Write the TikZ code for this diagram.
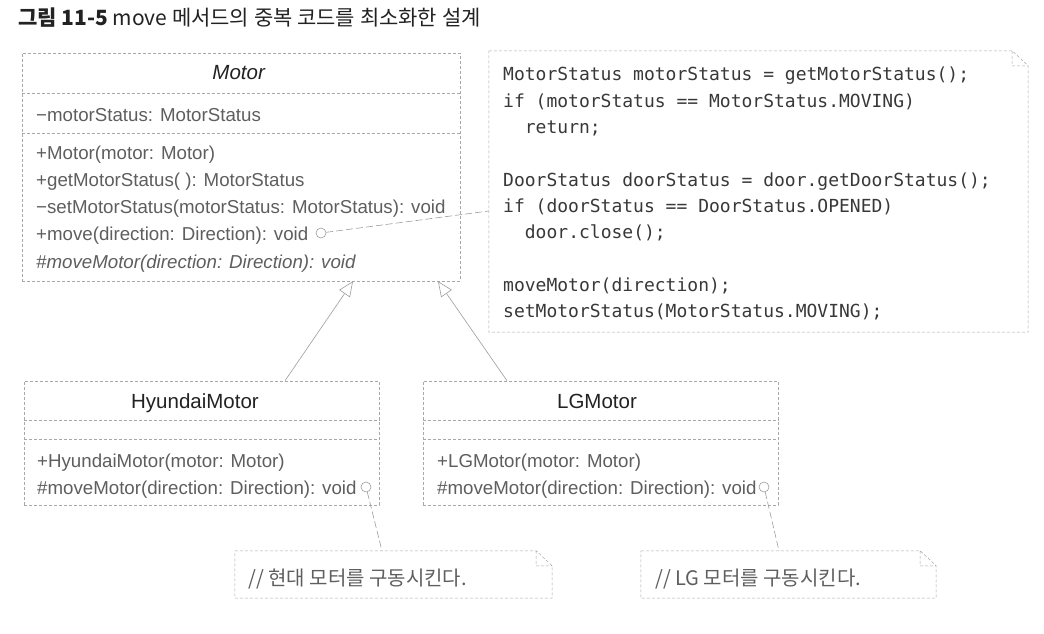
\documentclass[tikz,border=0pt]{standalone}
\usepackage{fontspec}
\setmainfont{Liberation Sans}
\newfontfamily\codefont{DejaVu Sans Mono}
\newfontfamily\krfont{Noto Sans CJK KR}
\usepackage{tikz}
\usetikzlibrary{arrows.meta}
\definecolor{boxgray}{HTML}{A8A8A8}
\definecolor{linkgray}{HTML}{9C9C9C}
\definecolor{namegray}{HTML}{222222}
\definecolor{membergray}{HTML}{5E5E5E}
\definecolor{codegray}{HTML}{383838}
\tikzset{
    classbox/.style = {
        rectangle,
        draw=boxgray,
        densely dashed,
        line width=0.5pt,
        inner sep=0pt
    },
    divider/.style = {
        draw=boxgray,
        densely dashed,
        line width=0.5pt
    },
    classname/.style = {
        anchor=base,
        inner sep=0pt,
        text=namegray,
        font=\fontsize{20.5}{24}\selectfont
    },
    member/.style = {
        anchor=base west,
        inner sep=0pt,
        text=membergray,
        font=\fontsize{18.7}{23}\selectfont
    },
    notebox/.style = {
        rectangle,
        inner sep=0pt
    },
    noteline/.style = {
        draw=boxgray,
        densely dashed,
        line width=0.5pt
    },
    codeline/.style = {
        anchor=base west,
        inner sep=0pt,
        text=codegray,
        font=\codefont\fontsize{18}{22}\selectfont
    },
    notetext/.style = {
        anchor=base west,
        inner sep=0pt,
        text=membergray,
        font=\krfont\fontsize{20}{24}\selectfont
    },
    pincirc/.style = {
        circle,
        draw=linkgray,
        line width=0.6pt,
        minimum size=10pt,
        inner sep=0pt
    },
    notelink/.style = {
        draw=linkgray,
        line width=0.6pt,
        dash pattern=on 7pt off 3pt
    },
    inherit/.style = {
        draw=linkgray,
        line width=0.6pt,
        -{Triangle[open, length=15pt, width=13pt]}
    }
}
\begin{document}
\begin{tikzpicture}[x=1pt, y=-1pt]
    \useasboundingbox (0,0) rectangle (1044,634);
    \node[anchor=base west, inner sep=0pt, text=namegray, font=\krfont\fontsize{21}{25}\selectfont] (title) at (18,26)
        {{\bfseries 그림 11-5} move 메서드의 중복 코드를 최소화한 설계};

    % Motor
    \node[classbox, minimum width=438pt, minimum height=228pt] (motor) at (241,167) {};
    \draw[divider] (motor.west |- 0,93) -- (motor.east |- 0,93);
    \draw[divider] (motor.west |- 0,133) -- (motor.east |- 0,133);
    \node[classname] (motor-name) at (239,80) {\textit{Motor}};
    \node[member] (motor-attr) at (36,121) {−motorStatus: MotorStatus};
    \foreach \txt [count=\i] in {
        {+Motor(motor: Motor)},
        {+getMotorStatus( ): MotorStatus},
        {−setMotorStatus(motorStatus: MotorStatus): void},
        {+move(direction: Direction): void},
        {\textit{\#moveMotor(direction: Direction): void}}
    }
        \node[member] (motor-m\i) at (36,131.75+27.25*\i) {\txt};
    \node[pincirc] (motor-pin) at (321,233) {};

    % HyundaiMotor
    \node[classbox, minimum width=355pt, minimum height=124pt] (hyundai) at (201.5,443) {};
    \draw[divider] (hyundai.west |- 0,420) -- (hyundai.east |- 0,420);
    \draw[divider] (hyundai.west |- 0,439) -- (hyundai.east |- 0,439);
    \node[classname] (hyundai-name) at (195,408) {HyundaiMotor};
    \node[member] (hyundai-m1) at (37,467) {+HyundaiMotor(motor: Motor)};
    \node[member] (hyundai-m2) at (37,494) {\#moveMotor(direction: Direction): void};
    \node[pincirc] (hyundai-pin) at (366,487) {};

    % LGMotor
    \node[classbox, minimum width=355pt, minimum height=124pt] (lg) at (600.5,443) {};
    \draw[divider] (lg.west |- 0,420) -- (lg.east |- 0,420);
    \draw[divider] (lg.west |- 0,439) -- (lg.east |- 0,439);
    \node[classname] (lg-name) at (597,408) {LGMotor};
    \node[member] (lg-m1) at (437,467) {+LGMotor(motor: Motor)};
    \node[member] (lg-m2) at (437,494) {\#moveMotor(direction: Direction): void};
    \node[pincirc] (lg-pin) at (764,487) {};

    % notes
    \node[notebox, minimum width=539pt, minimum height=281pt] (codenote) at (758.5,191.5) {};
    \foreach \ln/\ind/\txt in {
        0/0/{MotorStatus motorStatus = getMotorStatus();},
        1/0/{if (motorStatus == MotorStatus.MOVING)},
        2/1/{return;},
        4/0/{DoorStatus doorStatus = door.getDoorStatus();},
        5/0/{if (doorStatus == DoorStatus.OPENED)},
        6/1/{door.close();},
        8/0/{moveMotor(direction);},
        9/0/{setMotorStatus(MotorStatus.MOVING);}
    }
        \node[codeline] (code-\ln) at (503+21.7*\ind,81+26.33*\ln) {\txt};

    \node[notebox, minimum width=317pt, minimum height=47pt] (hnote) at (393.5,574.5) {};
    \node[notetext] (hnote-text) at (248,585) {// 현대 모터를 구동시킨다.};
    \node[notebox, minimum width=295pt, minimum height=47pt] (lgnote) at (788.5,574.5) {};
    \node[notetext] (lgnote-text) at (655,585) {// LG 모터를 구동시킨다.};

    \foreach \n in {codenote,hnote,lgnote}
        \draw[noteline] (\n.north west) -- ([xshift=-16pt]\n.north east) -- ([yshift=-15pt]\n.north east)
            -- (\n.south east) -- (\n.south west) -- cycle
            ([xshift=-16pt]\n.north east) |- ([yshift=-15pt]\n.north east);

    % links
    \draw[inherit] ([xshift=83.5pt]hyundai.north) -- ([xshift=112pt]motor.south);
    \draw[inherit] ([xshift=-93.5pt]lg.north) -- ([xshift=197pt]motor.south);
    \draw[notelink] (motor-pin) -- ([yshift=-19.5pt]codenote.west);
    \draw[notelink] (hyundai-pin) -- ([xshift=-11.5pt]hnote.north);
    \draw[notelink] (lg-pin) -- ([xshift=-9.5pt]lgnote.north);
\end{tikzpicture}
\end{document}
